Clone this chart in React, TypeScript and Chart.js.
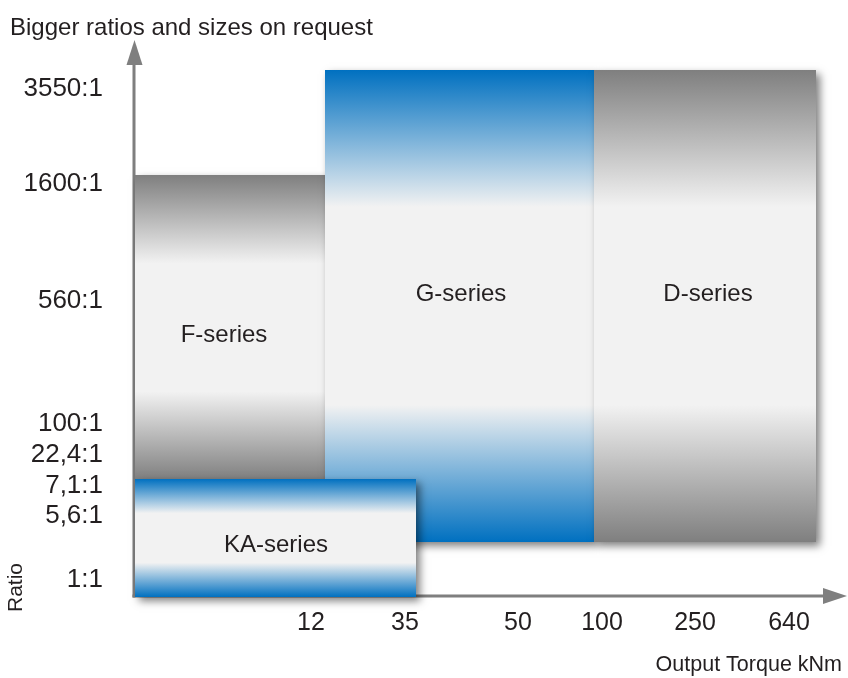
import { useEffect, useRef } from 'react';
import { Chart, registerables } from 'chart.js';

Chart.register(...registerables);

// Schematic coordinates: x = position along the torque axis, y = position along the ratio axis
const seriesNames = ['KA-series', 'D-series', 'G-series', 'F-series'];
const seriesX0 = [1, 460, 191, 1];
const seriesX1 = [282, 682, 460, 191];
const seriesTop = [117, 526, 526, 421];
const seriesBottom = [-1, 54, 54, 116];
const seriesTone = ['blue', 'gray', 'blue', 'gray'];
const seriesLabelX = [142, 574, 327, 90];
const seriesLabelY = [51, 302, 302, 261];

const xTickPos = [177, 271, 384, 468, 561, 655];
const xTickLabels = ['12', '35', '50', '100', '250', '640'];
const yTickPos = [507, 412, 295, 172, 141, 110, 80, 16];
const yTickLabels = ['3550:1', '1600:1', '560:1', '100:1', '22,4:1', '7,1:1', '5,6:1', '1:1'];

const TEXT = '#231f20';
const AXIS = '#7f7f7f';
const FONT = "'Liberation Sans', Arial, Helvetica, sans-serif";
const TONES: Record<string, string> = { blue: '#0070c0', gray: '#7f7f7f' };
const LIGHT = '#f2f2f2';

function fillFor(i: number) {
  return (c: any) => {
    const chart = c.chart;
    const y = chart.scales && chart.scales.y;
    const tone = TONES[seriesTone[i]];
    if (!chart.chartArea || !y) return tone;
    const t = y.getPixelForValue(seriesTop[i]);
    const b = y.getPixelForValue(seriesBottom[i]);
    const g = chart.ctx.createLinearGradient(0, t, 0, b);
    g.addColorStop(0, tone);
    g.addColorStop(0.29, LIGHT);
    g.addColorStop(0.71, LIGHT);
    g.addColorStop(1, tone);
    return g;
  };
}

function drawShadow(chart: any, i: number) {
  const { ctx } = chart;
  const x = chart.scales.x;
  const y = chart.scales.y;
  const l = x.getPixelForValue(seriesX0[i]);
  const r = x.getPixelForValue(seriesX1[i]);
  const t = y.getPixelForValue(seriesTop[i]);
  const b = y.getPixelForValue(seriesBottom[i]);
  const far = 10000;
  ctx.save();
  ctx.shadowColor = 'rgba(0,0,0,0.5)';
  ctx.shadowBlur = 8;
  ctx.shadowOffsetX = far + 4;
  ctx.shadowOffsetY = 4;
  ctx.fillStyle = '#000';
  ctx.fillRect(l - far, t, r - l, b - t);
  ctx.restore();
}

const decor = {
  id: 'decor',
  beforeDatasetsDraw(chart: any) {
    const { ctx, chartArea } = chart;
    const x = chart.scales.x;
    const y = chart.scales.y;
    const ox = x.getPixelForValue(0);
    const oy = y.getPixelForValue(0);
    const top = chartArea.top;
    const right = chartArea.right + 5;
    ctx.save();
    ctx.strokeStyle = AXIS;
    ctx.fillStyle = AXIS;
    ctx.lineWidth = 3;
    ctx.beginPath();
    ctx.moveTo(ox, oy + 1.5);
    ctx.lineTo(ox, top + 20);
    ctx.stroke();
    ctx.beginPath();
    ctx.moveTo(ox - 1.5, oy);
    ctx.lineTo(right - 20, oy);
    ctx.stroke();
    ctx.beginPath();
    ctx.moveTo(ox + 0.5, top);
    ctx.lineTo(ox - 7.5, top + 25);
    ctx.lineTo(ox + 8.5, top + 25);
    ctx.closePath();
    ctx.fill();
    ctx.beginPath();
    ctx.moveTo(right, oy);
    ctx.lineTo(right - 24, oy - 8);
    ctx.lineTo(right - 24, oy + 8);
    ctx.closePath();
    ctx.fill();
    ctx.restore();
    drawShadow(chart, seriesNames.length - 1);
  },
  afterDatasetDraw(chart: any, args: any) {
    const next = args.index - 1;
    if (next >= 0) drawShadow(chart, next);
  },
  afterDatasetsDraw(chart: any) {
    const { ctx } = chart;
    const x = chart.scales.x;
    const y = chart.scales.y;
    ctx.save();
    ctx.fillStyle = TEXT;
    ctx.font = `24px ${FONT}`;
    ctx.textAlign = 'center';
    ctx.textBaseline = 'middle';
    seriesNames.forEach((n, i) => {
      ctx.fillText(n, x.getPixelForValue(seriesLabelX[i]), y.getPixelForValue(seriesLabelY[i]));
    });
    ctx.translate(y.left + 6.5, y.getPixelForValue(8.5));
    ctx.rotate(-Math.PI / 2);
    ctx.font = `21px ${FONT}`;
    ctx.fillText('Ratio', 0, 0);
    ctx.restore();
  },
};

export default function App() {
  const ref = useRef<HTMLCanvasElement | null>(null);
  useEffect(() => {
    document.body.style.margin = '0';
    if (!ref.current) return;
    Chart.defaults.font.family = FONT;
    const chart = new Chart(ref.current, {
      type: 'line',
      data: {
        datasets: seriesNames.map((name, i) => ({
          label: name,
          data: [
            { x: seriesX0[i], y: seriesTop[i] },
            { x: seriesX1[i], y: seriesTop[i] },
          ],
          fill: { value: seriesBottom[i] },
          backgroundColor: fillFor(i),
          borderColor: 'rgba(0,0,0,0)',
          borderWidth: 0,
          pointRadius: 0,
          pointHoverRadius: 0,
          tension: 0,
        })),
      },
      options: {
        responsive: false,
        animation: false,
        events: [],
        layout: { padding: { left: 10, right: 6, top: 0, bottom: 0 } },
        plugins: {
          legend: { display: false },
          tooltip: { enabled: false },
          filler: { propagate: false },
          title: {
            display: true,
            text: 'Bigger ratios and sizes on request',
            align: 'start',
            color: TEXT,
            font: { size: 24, weight: 'normal', family: FONT, lineHeight: 0.95 },
            padding: { top: 17.1, bottom: 0.1 },
          },
        },
        scales: {
          x: {
            type: 'linear',
            min: 0,
            max: 708,
            afterBuildTicks: (s: any) => {
              s.ticks = xTickPos.map((v) => ({ value: v }));
            },
            afterFit: (s: any) => {
              s.height = 72;
            },
            grid: { display: false, drawTicks: false },
            border: { display: false },
            ticks: {
              callback: (_v: any, i: number) => xTickLabels[i],
              color: TEXT,
              font: { size: 25, family: FONT },
              padding: 2.5,
              maxRotation: 0,
              autoSkip: false,
            },
            title: {
              display: true,
              text: 'Output Torque kNm',
              align: 'end',
              color: TEXT,
              font: { size: 21.5, family: FONT },
              padding: { top: 0, bottom: 0 },
            },
          },
          y: {
            type: 'linear',
            min: -10,
            max: 556,
            afterBuildTicks: (s: any) => {
              s.ticks = yTickPos.map((v) => ({ value: v }));
            },
            afterFit: (s: any) => {
              s.width = 124;
            },
            grid: {
              display: true,
              drawOnChartArea: false,
              drawTicks: true,
              tickLength: 28,
              color: 'rgba(0,0,0,0)',
            },
            border: { display: false },
            ticks: {
              callback: (_v: any, i: number) => yTickLabels[i],
              color: TEXT,
              font: { size: 26, family: FONT },
              padding: 3,
              autoSkip: false,
            },
          },
        },
      },
      plugins: [decor],
    } as any);
    return () => chart.destroy();
  }, []);
  return (
    <div style={{ width: 848, height: 678 }}>
      <canvas ref={ref} width={848} height={678} style={{ display: 'block' }} />
    </div>
  );
}
